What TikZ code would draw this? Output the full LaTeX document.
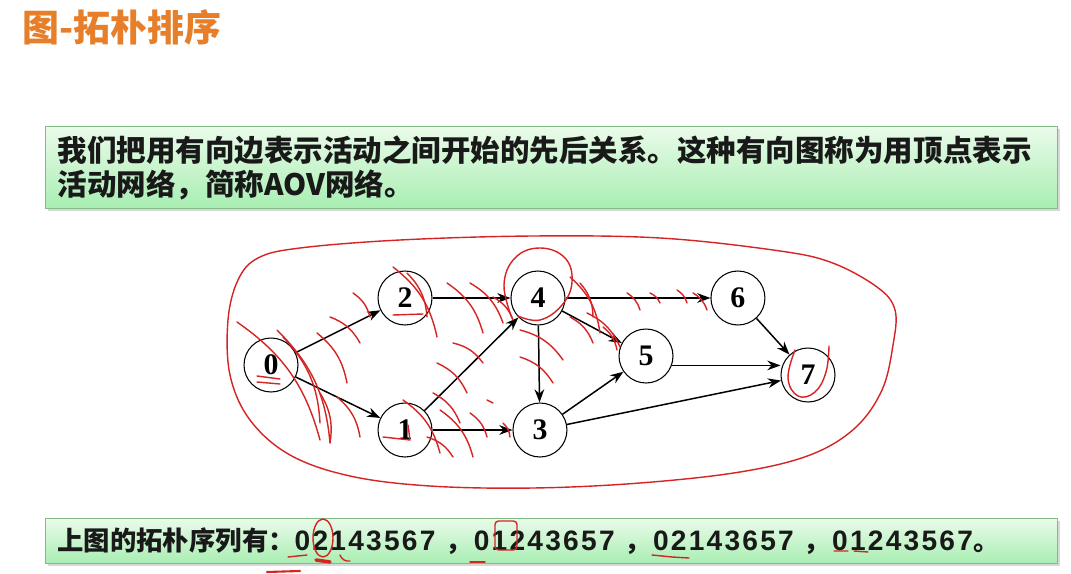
\documentclass[tikz,border=0pt]{standalone}
\usepackage{fontspec}
\usetikzlibrary{positioning}
\usetikzlibrary{arrows.meta}
\usetikzlibrary{shadows}
\newfontfamily\cjk{Noto Sans CJK SC}
\newfontfamily\numfont{Liberation Serif}
\newfontfamily\digits[LetterSpace=8]{Liberation Sans}
\definecolor{titleorange}{RGB}{230,126,42}
\definecolor{boxtop}{RGB}{234,251,234}
\definecolor{boxbottom}{RGB}{168,238,178}
\definecolor{boxedge}{RGB}{130,188,130}
\definecolor{penred}{RGB}{214,36,36}
\providecommand\seq[1]{{\digits\bfseries\fontsize{16}{16}\selectfont #1}}
\providecommand\sep{\hspace{0.2cm}，\hspace{0.04cm}}

\begin{document}
\begin{tikzpicture}[x=0.02cm, y=-0.02cm, line width=0.8pt,
    vertex/.style={circle, draw, line width=0.6pt, minimum size=1.08cm, inner sep=0pt,
        font=\numfont\bfseries\fontsize{17}{17}\selectfont},
    arrowline/.style={-{Stealth[length=7.5pt,width=5.5pt]}, line width=0.85pt},
    pen/.style={draw=penred, line width=0.8pt, line cap=round, line join=round},
    greenbox/.style={draw=boxedge, line width=0.6pt, top color=boxtop, bottom color=boxbottom,
        drop shadow={shadow xshift=1.5pt, shadow yshift=-1.5pt, opacity=0.3},
        inner xsep=0.24cm, inner ysep=0pt, text width=19.76cm, minimum width=20.24cm,
        align=left, anchor=north west, text=black!90},
]

    \fill[white] (0,0) rectangle (1071,574);
    \useasboundingbox (0,0) rectangle (1071,574);

    \node (title) at (16,27) [anchor=west, text=titleorange,
        font=\cjk\bfseries\fontsize{21}{21}\selectfont] {图-拓朴排序};

    \node (intro) at (45,126) [greenbox, minimum height=1.64cm,
        font=\cjk\bfseries\fontsize{16.8}{19.3}\selectfont]
        {我们把用有向边表示活动之间开始的先后关系。这种有向图称为用顶点表示\\活动网络，简称AOV网络。};

    \node (orders) at (45,518) [greenbox, minimum height=0.9cm,
        font=\cjk\bfseries\fontsize{15}{15}\selectfont]
        {上图的拓朴序列有：\seq{02143567}\sep\seq{01243657}\sep\seq{02143657}\sep\seq{01243567}。};

    \begin{scope}[on grid]
        \node (n0) at (271,365) [vertex] {0};
        \node (n2) at (405,298) [vertex] {2};
        \node (n1) at (405,430) [vertex] {1};
        \node (n4) [vertex, right=2.66cm of n2] {4};
        \node (n3) [vertex, right=2.7cm of n1] {3};
        \node (n6) [vertex, right=4cm of n4] {6};
        \node (n5) at (646,356) [vertex] {5};
        \node (n7) at (808,375) [vertex] {7};

        \draw[arrowline] (n0) -- (n2);
        \draw[arrowline] (n0) -- (n1);
        \draw[arrowline] (n2) -- (n4);
        \draw[arrowline] (n1) -- (n4);
        \draw[arrowline] (n1) -- (n3);
        \draw[arrowline] (n4) -- (n3);
        \draw[arrowline] (n4) -- (n6);
        \draw[arrowline] (n4) -- (n5);
        \draw[arrowline] (n3) -- (n5);
        \draw[arrowline] (n3) -- (n7);
        \draw[arrowline] (n5.-20) -- (n5.-20 -| n7.west);
        \draw[arrowline] (n6) -- (n7);
    \end{scope}

    % pen marks
    \draw[pen] plot[smooth cycle, tension=0.6] coordinates {(238,280) (258,258) (300,248) (400,240)
        (533,236) (660,238) (773,250) (830,262) (877,287) (895,310) (893,345) (882,390) (855,428)
        (810,455) (740,472) (640,483) (533,488) (430,486) (350,476) (290,455) (250,420) (230,375) (228,320)};
    \draw[pen] plot[smooth, tension=0.7] coordinates {(512,318) (504,285) (515,258) (540,248)
        (565,258) (572,282) (562,305) (540,320) (518,316)};
    \draw[pen] plot[smooth, tension=0.7] coordinates {(795,350) (788,378) (798,396) (815,392) (826,372) (829,346)};
    \foreach \xa/\ya/\xb/\yb in {237/322/320/440, 277/330/330/443, 283/337/320/423, 317/333/347/383,
        330/317/360/343, 353/293/370/317, 393/267/437/337, 407/273/427/317, 447/283/483/333,
        470/283/503/323, 493/297/513/320, 453/343/483/363, 437/363/467/393, 520/330/563/360,
        520/357/553/383, 570/277/600/333, 570/317/593/343, 587/313/620/347, 320/393/330/443,
        337/397/360/437, 403/400/440/453, 433/393/460/423, 440/410/473/457, 470/413/487/437,
        503/423/510/437, 427/437/453/457, 627/293/640/310, 650/293/660/303, 677/290/687/303,
        693/293/707/310, 580/283/593/317, 603/327/617/350}
        \draw[pen] (\xa,\ya) to[bend left=20] (\xb,\yb);
    \draw[pen] (487,400) -- (493,403);
    \draw[pen] (257,376) -- (280,379) (257,382) -- (280,384);
    \draw[pen] (393,315) -- (423,314);
    \draw[pen] (383,437) -- (410,440) -- (408,425);

    \draw[pen] (323,538) ellipse [x radius=0.2cm, y radius=0.38cm];
    \draw[pen, rounded corners=2pt] (495,521) rectangle (517,550);
    \draw[pen] (288,557) -- (307,555);
    \draw[pen, line width=2pt] (316,560) -- (330,562);
    \draw[pen] (340,555) to[bend right=40] (350,561);
    \draw[pen] (470,562) -- (485,562);
    \draw[pen] (652,555) -- (672,557) -- (689,558);
    \draw[pen] (834,551) -- (848,551) (854,551) -- (868,552);
    \draw[pen, line width=1.2pt] (267,572) -- (300,571);

\end{tikzpicture}
\end{document}
